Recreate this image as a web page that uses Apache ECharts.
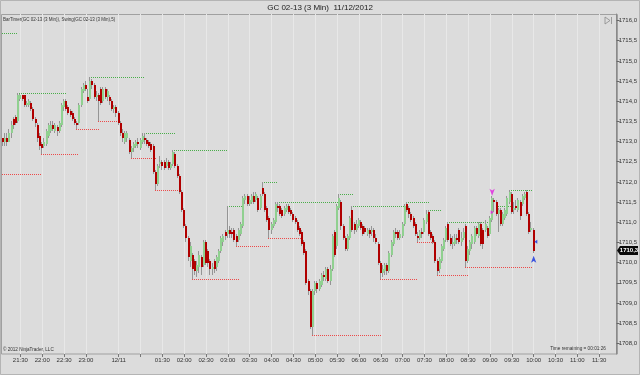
<!DOCTYPE html>
<html><head><meta charset="utf-8">
<script src="https://cdn.jsdelivr.net/npm/echarts@6/dist/echarts.min.js"></script>
<style>html,body{margin:0;padding:0;background:#dcdcdc;}#c{width:640px;height:375px;}</style>
</head><body><div id="c"></div>
<script>
// ---- DATA ----
const sessionStarts = [[21, 6, 44], [0, 3, 238]]; // [hour, minute, bar count] per session block (3-min bars)
const priceTicks = [1708,1708.5,1709,1709.5,1710,1710.5,1711,1711.5,1712,1712.5,1713,1713.5,1714,1714.5,1715,1715.5,1716];
// [open, close, low, high]
const candles = [
[1713.1,1713.0,1712.9,1713.1],[1713.0,1713.1,1712.9,1713.2],[1713.1,1713.0,1712.9,1713.2],[1713.0,1713.2,1713.0,1713.3],[1713.2,1713.4,1713.1,1713.5],
[1713.55,1713.4,1713.3,1713.6],[1713.6,1713.45,1713.4,1713.65],[1713.5,1714.15,1713.45,1714.2],[1714.05,1714.15,1714.0,1714.18],[1714.15,1714.05,1714.0,1714.15],
[1714.15,1713.9,1713.85,1714.15],[1713.9,1713.95,1713.85,1714.0],[1713.9,1714.0,1713.85,1714.05],[1713.95,1713.8,1713.75,1714.0],[1713.8,1713.55,1713.5,1713.85],
[1713.55,1713.45,1713.35,1713.6],[1713.4,1713.1,1713.0,1713.45],[1713.15,1712.9,1712.8,1713.2],[1712.95,1712.85,1712.7,1713.0],[1712.9,1713.0,1712.85,1713.1],
[1712.95,1713.25,1712.9,1713.3],[1713.15,1713.4,1713.1,1713.45],[1713.25,1713.4,1713.2,1713.5],[1713.4,1713.3,1713.25,1713.5],[1713.25,1713.4,1713.2,1713.45],
[1713.35,1713.25,1713.15,1713.4],[1713.25,1713.45,1713.2,1713.5],[1713.4,1713.9,1713.35,1713.95],[1713.85,1714.0,1713.75,1714.05],[1714.0,1713.8,1713.75,1714.05],
[1713.85,1713.7,1713.65,1713.9],[1713.75,1713.65,1713.6,1713.8],[1713.7,1713.55,1713.5,1713.75],[1713.55,1713.45,1713.4,1713.6],[1713.45,1713.4,1713.3,1713.5],
[1713.45,1713.9,1713.4,1713.95],[1713.9,1714.3,1713.85,1714.35],[1714.25,1714.4,1714.2,1714.45],[1714.4,1714.3,1714.25,1714.5],[1714.1,1714.0,1713.95,1714.3],
[1714.05,1714.5,1714.0,1714.6],[1714.5,1714.4,1714.3,1714.55],[1714.4,1714.1,1714.05,1714.45],[1714.1,1714.15,1714.0,1714.25],[1714.15,1714.0,1713.5,1714.2],
[1714.3,1713.95,1713.9,1714.35],[1714.0,1714.3,1713.95,1714.35],[1714.3,1714.1,1714.05,1714.35],[1714.1,1714.25,1714.0,1714.3],[1714.1,1714.0,1713.9,1714.15],
[1714.0,1713.8,1713.75,1714.05],[1713.8,1713.85,1713.7,1713.9],[1713.85,1713.7,1713.6,1713.9],[1713.7,1713.45,1713.4,1713.75],[1713.45,1713.2,1713.15,1713.5],
[1713.2,1713.1,1713.0,1713.3],[1713.0,1713.2,1712.95,1713.25],[1713.1,1713.2,1713.0,1713.25],[1713.05,1712.75,1712.7,1713.1],[1712.75,1712.85,1712.6,1712.9],
[1712.85,1712.95,1712.75,1713.0],[1712.9,1713.0,1712.85,1713.05],[1713.0,1712.95,1712.85,1713.1],[1712.85,1713.05,1712.8,1713.1],[1713.0,1713.15,1712.95,1713.2],
[1713.1,1713.05,1712.95,1713.2],[1713.05,1712.95,1712.9,1713.1],[1713.0,1712.9,1712.85,1713.05],[1712.95,1712.8,1712.75,1713.0],[1712.9,1712.25,1712.2,1712.95],
[1712.25,1711.95,1711.8,1712.3],[1711.95,1712.4,1711.9,1712.45],[1712.45,1712.5,1712.35,1712.65],[1712.5,1712.4,1712.3,1712.55],[1712.5,1712.35,1712.3,1712.55],
[1712.4,1712.5,1712.35,1712.6],[1712.5,1712.35,1712.3,1712.55],[1712.35,1712.45,1712.3,1712.5],[1712.45,1712.75,1712.4,1712.8],[1712.7,1712.4,1712.35,1712.75],
[1712.4,1712.15,1712.1,1712.45],[1712.15,1711.75,1711.7,1712.2],[1711.75,1711.3,1711.25,1711.8],[1711.3,1710.9,1710.85,1711.35],[1710.9,1710.6,1710.5,1710.95],
[1710.6,1710.15,1710.05,1710.65],[1710.05,1710.4,1709.9,1710.5],[1710.2,1709.85,1709.6,1710.25],[1710.05,1709.8,1709.7,1710.1],[1709.8,1709.95,1709.65,1710.05],
[1709.9,1710.2,1709.75,1710.3],[1710.15,1709.9,1709.7,1710.2],[1709.95,1710.5,1709.9,1710.55],[1710.5,1710.0,1709.95,1710.55],[1710.3,1710.0,1709.9,1710.35],
[1710.05,1709.85,1709.7,1710.1],[1709.85,1709.9,1709.7,1710.0],[1710.05,1709.85,1709.75,1710.1],[1709.9,1710.15,1709.8,1710.2],[1710.05,1710.3,1710.0,1710.35],
[1710.3,1710.6,1710.25,1710.65],[1710.5,1710.65,1710.4,1710.7],[1710.75,1710.65,1710.55,1710.8],[1710.7,1710.8,1710.6,1711.4],[1710.8,1710.7,1710.6,1710.9],
[1710.75,1710.7,1710.6,1710.85],[1710.8,1710.55,1710.5,1710.85],[1710.65,1710.5,1710.4,1710.7],[1710.55,1710.8,1710.5,1710.85],[1710.7,1710.95,1710.65,1711.0],
[1710.9,1711.6,1710.85,1711.65],[1711.55,1711.65,1711.45,1711.7],[1711.65,1711.45,1711.4,1711.7],[1711.45,1711.55,1711.4,1711.65],[1711.5,1711.65,1711.45,1711.7],
[1711.65,1711.5,1711.45,1711.75],[1711.55,1711.7,1711.5,1711.75],[1711.6,1711.3,1711.25,1711.65],[1711.35,1711.65,1711.3,1711.7],[1711.85,1711.7,1711.65,1712.0],
[1711.7,1711.3,1711.25,1711.75],[1711.35,1711.05,1711.0,1711.4],[1711.1,1710.8,1710.6,1711.15],[1710.8,1710.95,1710.7,1711.0],[1710.9,1711.05,1710.85,1711.1],
[1711.0,1711.45,1710.95,1711.5],[1711.4,1711.35,1711.25,1711.5],[1711.4,1711.2,1711.15,1711.45],[1711.3,1711.15,1711.1,1711.35],[1711.2,1711.35,1711.15,1711.4],
[1711.3,1711.4,1711.25,1711.45],[1711.4,1711.25,1711.2,1711.45],[1711.3,1711.2,1711.15,1711.35],[1711.2,1711.05,1711.0,1711.25],[1711.1,1711.0,1710.95,1711.15],
[1711.0,1710.8,1710.75,1711.05],[1710.85,1710.7,1710.65,1710.9],[1710.75,1710.45,1710.4,1710.8],[1710.5,1710.25,1710.2,1710.55],[1710.3,1709.5,1709.45,1710.35],
[1709.55,1709.3,1709.2,1709.6],[1709.3,1708.4,1708.35,1709.35],[1708.4,1709.3,1708.2,1709.35],[1709.3,1709.5,1709.2,1709.55],[1709.5,1709.35,1709.25,1709.55],
[1709.35,1709.55,1709.3,1709.6],[1709.45,1709.7,1709.4,1709.75],[1709.7,1709.65,1709.55,1709.8],[1709.6,1709.85,1709.55,1709.9],[1709.85,1709.55,1709.5,1709.9],
[1709.55,1709.85,1709.45,1709.95],[1709.85,1710.65,1709.8,1710.7],[1710.75,1710.2,1710.15,1710.8],[1710.4,1711.4,1710.35,1711.45],[1711.35,1711.6,1711.3,1711.7],
[1711.5,1710.9,1710.8,1711.55],[1710.9,1710.6,1710.55,1710.95],[1710.6,1710.35,1710.3,1710.65],[1710.35,1710.65,1710.3,1710.7],[1710.6,1711.1,1710.55,1711.15],
[1711.3,1710.8,1710.75,1711.4],[1710.95,1710.8,1710.7,1711.0],[1710.8,1710.95,1710.75,1711.05],[1710.9,1711.05,1710.85,1711.1],[1711.0,1710.85,1710.8,1711.05],
[1710.9,1710.7,1710.65,1710.95],[1710.85,1710.75,1710.7,1710.9],[1710.7,1710.8,1710.65,1710.85],[1710.8,1710.7,1710.6,1710.85],[1710.75,1710.8,1710.65,1710.9],
[1710.8,1710.6,1710.5,1710.85],[1710.6,1710.5,1710.45,1710.7],[1710.45,1710.0,1709.95,1710.5],[1710.0,1709.75,1709.6,1710.05],[1709.75,1709.85,1709.65,1709.95],
[1709.8,1709.95,1709.7,1710.0],[1709.95,1709.8,1709.7,1710.0],[1709.8,1710.25,1709.75,1710.3],[1710.2,1710.5,1710.15,1710.55],[1710.45,1710.75,1710.4,1710.8],
[1710.75,1710.7,1710.6,1710.85],[1710.75,1710.6,1710.55,1710.8],[1710.6,1710.7,1710.55,1710.8],[1710.65,1710.95,1710.6,1711.0],[1710.95,1711.4,1710.9,1711.45],
[1711.45,1711.3,1711.25,1711.5],[1711.35,1711.2,1711.1,1711.4],[1711.2,1711.05,1711.0,1711.25],[1711.1,1710.9,1710.85,1711.15],[1710.95,1710.7,1710.65,1711.0],
[1710.65,1710.6,1710.5,1710.75],[1710.6,1710.75,1710.55,1710.8],[1710.75,1710.7,1710.6,1710.85],[1710.75,1711.05,1710.7,1711.1],[1711.0,1711.2,1710.95,1711.3],
[1711.25,1710.7,1710.65,1711.3],[1710.75,1710.6,1710.55,1710.8],[1710.65,1710.5,1710.45,1710.7],[1710.5,1710.05,1710.0,1710.55],[1710.05,1709.8,1709.7,1710.1],
[1709.85,1710.1,1709.75,1710.15],[1710.05,1710.4,1710.0,1710.45],[1710.35,1710.55,1710.3,1710.6],[1710.55,1710.85,1710.5,1710.9],[1710.95,1710.55,1710.5,1711.0],
[1710.6,1710.45,1710.4,1710.7],[1710.45,1710.5,1710.35,1710.65],[1710.45,1710.6,1710.4,1710.7],[1710.6,1710.55,1710.45,1710.7],[1710.8,1710.5,1710.45,1710.85],
[1710.5,1710.6,1710.4,1710.75],[1710.6,1710.75,1710.55,1710.85],[1710.9,1710.05,1709.9,1710.95],[1710.05,1710.35,1710.0,1710.4],[1710.3,1710.5,1710.2,1710.55],
[1710.45,1710.65,1710.35,1710.7],[1710.5,1710.85,1710.45,1710.9],[1710.85,1710.7,1710.65,1710.9],[1710.65,1710.95,1710.6,1711.0],[1710.95,1710.45,1710.4,1711.0],
[1710.8,1710.45,1710.35,1710.85],[1710.8,1710.95,1710.75,1711.05],[1710.85,1710.65,1710.6,1710.9],[1710.7,1711.1,1710.65,1711.15],[1711.05,1711.6,1711.0,1711.65],
[1711.55,1711.5,1711.25,1711.6],[1711.5,1711.2,1711.15,1711.55],[1711.2,1711.3,1710.75,1711.35],[1711.3,1710.95,1710.9,1711.35],[1710.95,1711.2,1710.9,1711.25],
[1711.1,1711.3,1711.05,1711.35],[1711.2,1711.6,1711.15,1711.65],[1711.5,1711.75,1711.45,1711.8],[1711.7,1711.25,1711.2,1711.75],[1711.3,1711.35,1711.2,1711.5],
[1711.4,1711.35,1711.3,1711.55],[1711.3,1711.55,1711.25,1711.6],[1711.5,1711.15,1711.05,1711.55],[1711.45,1711.65,1711.4,1711.7],[1711.6,1711.7,1711.55,1711.75],
[1711.75,1711.2,1711.15,1711.8],[1711.2,1710.75,1710.7,1711.25],[1710.8,1710.85,1710.75,1711.0],[1710.8,1710.3,1710.25,1710.85]
];
// swing lines: [startBar, endBar, price]
const swingHighs = [[0,6,1715.7],[7,28,1714.2],[40,64,1714.6],[65,78,1713.2],[78,102,1712.8],[103,110,1711.4],[119,125,1712.0],[126,153,1711.5],[154,160,1711.7],[160,185,1711.4],[185,194,1711.5],[194,200,1711.3],[204,221,1711.0],[226,233,1711.4],[233,242,1711.8]];
const swingLows = [[0,17,1712.2],[18,34,1712.7],[34,43,1713.3],[44,52,1713.5],[59,69,1712.6],[70,80,1711.8],[87,107,1709.6],[107,121,1710.4],[122,137,1710.6],[142,172,1708.2],[173,189,1709.6],[190,197,1710.5],[199,212,1709.7],[212,242,1709.9]];
const magentaArrow = [[224, 1711.66]];
const magentaTri = [[223.7, 1711.25]];
const blueDot = [[243.5, 1710.52]];
const blueArrow = [[242.8, 1710.17]];
const lastPrice = 1710.3;

// ---- BUILD ----
function pad(n){return (n<10?'0':'')+n;}
const times = [];
sessionStarts.forEach(function(s){
  let t = s[0]*60 + s[1];
  for (let k=0;k<s[2];k++){ times.push(pad(Math.floor(t/60)%24)+':'+pad(t%60)); t+=3; }
});
const candleData = candles.map(function(c,i){return [i,c[0],c[1],c[2],c[3]];});
function isMark(idx, val){ return /:(00|30)$/.test(val); }

const chart = echarts.init(document.getElementById('c'), null, {renderer:'canvas'});
const FONT = 'Liberation Sans, Arial, sans-serif';

function renderCandle(params, api){
  const i = api.value(0), o = api.value(1), c = api.value(2), l = api.value(3), h = api.value(4);
  const pO = api.coord([i,o]), pC = api.coord([i,c]), pL = api.coord([i,l]), pH = api.coord([i,h]);
  const cx = Math.round(pO[0]); const up = c >= o;
  const yT = Math.round(Math.min(pO[1], pC[1])), yB = Math.round(Math.max(pO[1], pC[1]));
  const hh = Math.max(yB - yT, 1);
  return {type:'group', children:[
    {type:'line', shape:{x1:cx-0.5, y1:Math.round(pH[1]), x2:cx-0.5, y2:Math.round(pL[1])}, style:{stroke:'#959595', lineWidth:1}},
    {type:'rect', shape:{x:cx-1, y:yT, width:2, height:hh}, style:{fill: up ? '#90d090' : '#b00000'}}
  ]};
}
function makeSwingRender(color){
  return function(params, api){
    const p1 = api.coord([api.value(0), api.value(2)]), p2 = api.coord([api.value(1), api.value(2)]);
    const y = Math.round(p1[1]);
    const x0 = Math.round(p1[0]) - 1, x1 = Math.round(p2[0]) + 1;
    const dots = [];
    for (let x = x0; x <= x1; x += 2) dots.push({type:'rect', shape:{x:x, y:y, width:1, height:1}, style:{fill:color}});
    return {type:'group', children:dots};
  };
}

chart.setOption({
  backgroundColor:'#dcdcdc',
  animation:false,
  grid:{left:2.9, top:14, width:614.55, height:340, show:false},
  xAxis:{type:'category', data:times, boundaryGap:false,
    axisLine:{show:false},
    axisTick:{show:true, interval:isMark, length:3, lineStyle:{color:'#777'}},
    axisLabel:{interval:isMark, fontSize:6, fontFamily:FONT, color:'#333', margin:3,
      formatter:function(v){ return v==='00:30' ? '12/11' : (v==='01:00' ? '' : v); }},
    splitLine:{show:true, interval:isMark, lineStyle:{color:'#e8e8e8', width:1}}
  },
  yAxis:{type:'value', position:'right', min:1707.736, max:1716.161, scale:true,
    axisLine:{show:true, lineStyle:{color:'#8a8a8a'}},
    axisTick:{show:true, length:3, customValues:priceTicks, lineStyle:{color:'#666'}},
    axisLabel:{customValues:priceTicks, fontSize:6, fontFamily:FONT, color:'#333', margin:2,
      formatter:function(v){ return v.toFixed(1).replace('.', ','); }},
    splitLine:{show:false}
  },
  series:[
    {type:'custom', name:'swingHigh', renderItem:makeSwingRender('#4aae4a'), data:swingHighs, encode:{x:[0,1], y:2}, z:2},
    {type:'custom', name:'swingLow', renderItem:makeSwingRender('#ec4a4a'), data:swingLows, encode:{x:[0,1], y:2}, z:2},
    {type:'custom', name:'bars', renderItem:renderCandle, data:candleData, encode:{x:0, y:[1,2,3,4]}, z:3},
    {type:'scatter', data:magentaArrow, symbol:'arrow', symbolRotate:180, symbolSize:[4,7], itemStyle:{color:'#e020e0'}, z:5},
    {type:'scatter', data:magentaTri, symbol:'triangle', symbolRotate:-90, symbolSize:[4,3], itemStyle:{color:'#e020e0'}, z:5},
    {type:'scatter', data:blueDot, symbol:'triangle', symbolRotate:90, symbolSize:[4,3], itemStyle:{color:'#1030e0'}, z:5},
    {type:'scatter', data:blueArrow, symbol:'arrow', symbolSize:[4,7], itemStyle:{color:'#1030e0'}, z:5}
  ]
});

const py = chart.convertToPixel({yAxisIndex:0}, lastPrice);
chart.setOption({graphic:[
  {type:'rect', shape:{x:0.5, y:0.5, width:639, height:374}, style:{fill:null, stroke:'#b4b4b4', lineWidth:1}, silent:true},
  {type:'rect', shape:{x:1.5, y:14.5, width:616, height:339.5}, style:{fill:null, stroke:'#a0a0a0', lineWidth:1}, silent:true, z:-1},
  {type:'text', x:320, y:8, style:{text:'GC 02-13 (3 Min)  11/12/2012', font:'8px '+FONT, fill:'#1a1a1a', textAlign:'center', textVerticalAlign:'middle'}},
  {type:'text', x:3, y:20, style:{text:'BarTimer(GC 02-13 (3 Min)), Swing(GC 02-13 (3 Min),5)', font:'4.5px '+FONT, fill:'#333', textVerticalAlign:'middle'}},
  {type:'text', x:3, y:350, style:{text:'\u00a9 2012 NinjaTrader, LLC', font:'4.6px '+FONT, fill:'#333', textVerticalAlign:'middle'}},
  {type:'text', x:578, y:349, style:{text:'Time remaining = 00:01:26', font:'4.7px '+FONT, fill:'#333', textAlign:'center', textVerticalAlign:'middle'}},
  {type:'polygon', shape:{points:[[605,17],[605,24],[610,20.5]]}, style:{fill:null, stroke:'#8a8a8a', lineWidth:0.8}},
  {type:'line', shape:{x1:611.5, y1:17, x2:611.5, y2:24}, style:{stroke:'#8a8a8a', lineWidth:0.8}},
  {type:'polygon', shape:{points:[[617,py],[620,py-4.5],[638,py-4.5],[638,py+4.5],[620,py+4.5]]}, style:{fill:'#0a0a0a'}, z:10},
  {type:'text', x:629, y:py, style:{text:lastPrice.toFixed(1).replace('.', ','), font:'bold 6px '+FONT, fill:'#ffffff', textAlign:'center', textVerticalAlign:'middle'}, z:11}
]});
</script>
</body></html>
